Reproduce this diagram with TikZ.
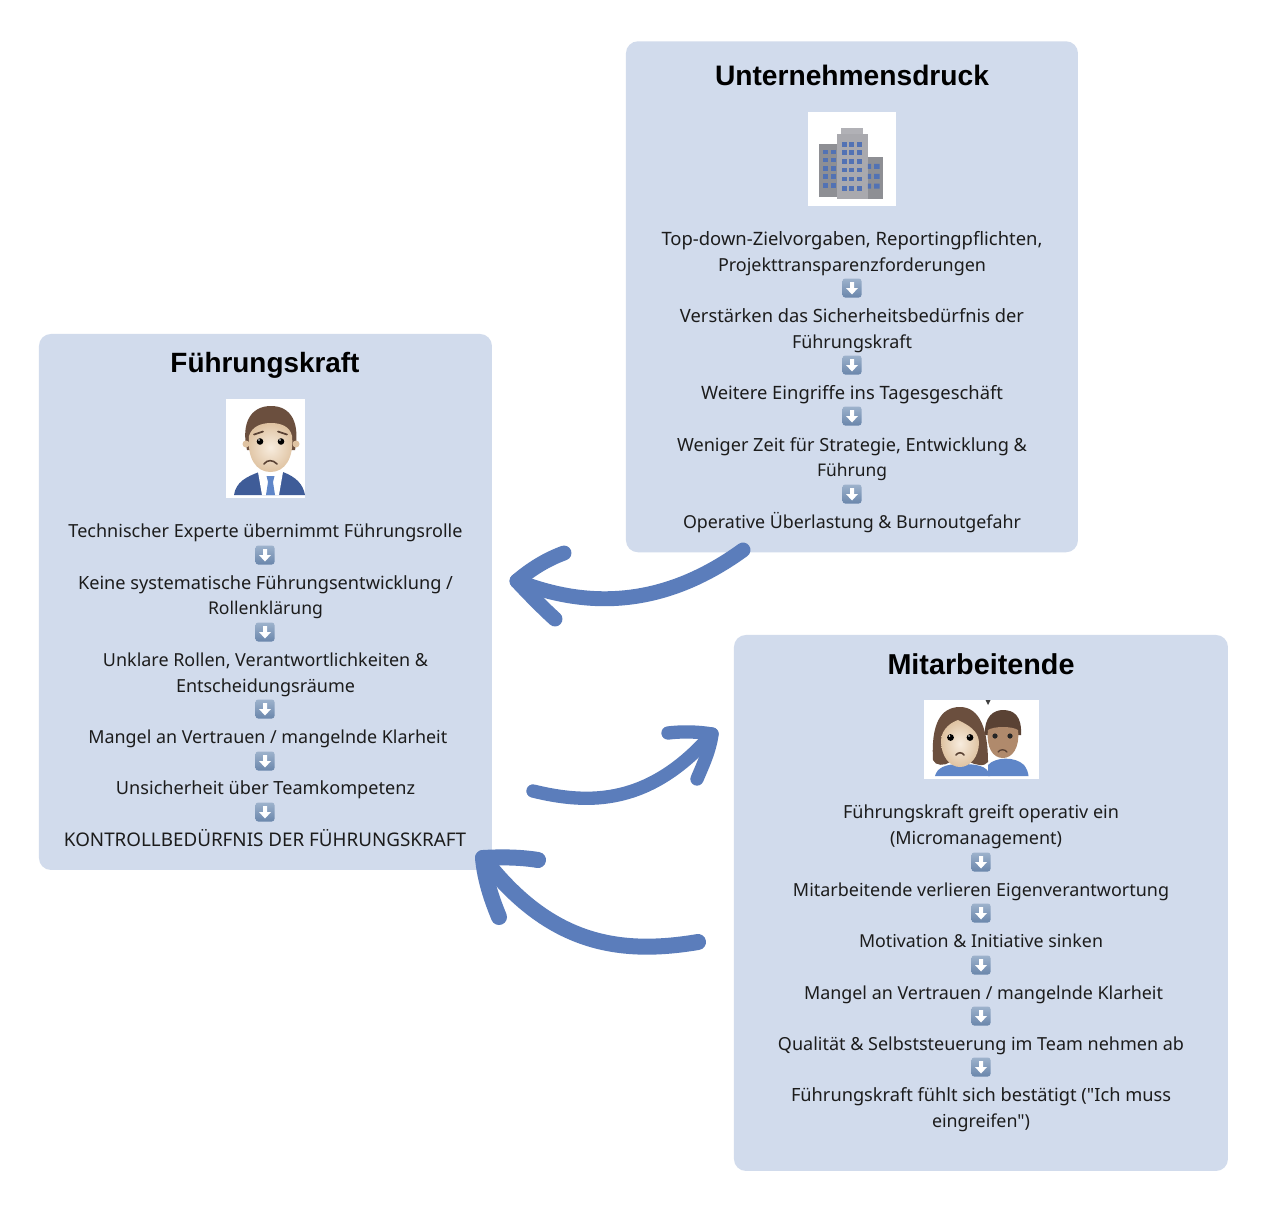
\documentclass[tikz,border=0pt]{standalone}
\usepackage{fontspec}
\usepackage{graphicx}
\newfontfamily\bodyfont{Noto Sans}
\newfontfamily\titlefont{Liberation Sans}[BoldFont={Liberation Sans Bold}]
\setmainfont{Noto Sans}
\definecolor{boxc}{HTML}{D1DBEC}
\definecolor{arrowc}{HTML}{5B7DBB}
\definecolor{txt}{HTML}{1C1C1C}
\definecolor{bwall}{HTML}{A9A9AE}
\definecolor{bdark}{HTML}{8E8F94}
\definecolor{bwin}{HTML}{5272B4}
\definecolor{skin}{HTML}{F3E0C8}
\definecolor{skind}{HTML}{DFC3A2}
\definecolor{skinb}{HTML}{B08A6C}
\definecolor{hair}{HTML}{6B4F3E}
\definecolor{hairb}{HTML}{5A4234}
\definecolor{suit}{HTML}{3F5C98}
\definecolor{shirt}{HTML}{5F86C8}
\definecolor{btntop}{HTML}{9DB2CC}
\definecolor{btnbot}{HTML}{6A86AB}
\newlength{\pxu}\setlength{\pxu}{0.75pt}
\newcommand{\fitw}[2]{\resizebox{#1\pxu}{!}{#2}}
\tikzset{
  x=0.75pt,y=-0.75pt,
  panel/.style={fill=boxc,draw=none,rounded corners=9pt,minimum width=#1,anchor=north west,inner sep=0pt},
  ttl/.style={anchor=base,inner sep=0pt,font=\fontsize{20.6pt}{24pt}\titlefont\bfseries,text=black},
  ln/.style={anchor=base,inner sep=0pt,font=\fontsize{13.7pt}{16pt}\bodyfont,text=txt},
  curve/.style={draw=arrowc,line cap=round,line join=round},
  photo/.style={fill=white,draw=none},
}
\newcommand{\dnbtn}[2]{%
  \begin{scope}[shift={(#1,#2)}]
    \shade[top color=btntop, bottom color=btnbot, rounded corners=2pt] (-9.5,-9.5) rectangle (9.5,9.5);
    \fill[white] (-2,-6) -- (2,-6) -- (2,0) -- (6,0) -- (0,6.5) -- (-6,0) -- (-2,0) -- cycle;
  \end{scope}}
\begin{document}
\begin{tikzpicture}
\useasboundingbox (0,0) rectangle (1266,1210);
\fill[white] (0,0) rectangle (1266,1210);
% panels
\node[panel=339pt,minimum height=383.25pt] (top) at (625.7,41) {};
\node[panel=339.75pt,minimum height=402pt] (left) at (38.7,333.7) {};
\node[panel=370.5pt,minimum height=402pt] (right) at (733.7,634.7) {};
% titles
\node[ttl] (t1) at (852,85.5) {\fitw{274}{Unternehmensdruck}};
\node[ttl] (t2) at (265,372) {\fitw{189}{Führungskraft}};
\node[ttl] (t3) at (981,674) {\fitw{187}{Mitarbeitende}};
% top panel text
\node[ln] (a1) at (852,245) {\fitw{381}{Top-down-Zielvorgaben, Reportingpflichten,}};
\node[ln] (a2) at (852,271) {\fitw{268}{Projekttransparenzforderungen}};
\node[ln] (a3) at (852,322) {\fitw{344}{Verstärken das Sicherheitsbedürfnis der}};
\node[ln] (a4) at (852,348) {\fitw{120}{Führungskraft}};
\node[ln] (a5) at (852,399) {\fitw{302}{Weitere Eingriffe ins Tagesgeschäft}};
\node[ln] (a6) at (852,451) {\fitw{350}{Weniger Zeit für Strategie, Entwicklung \&}};
\node[ln] (a7) at (852,476.5) {\fitw{70}{Führung}};
\node[ln] (a8) at (852,528) {\fitw{338}{Operative Überlastung \& Burnoutgefahr}};
% left panel text
\node[ln] (b1) at (265.5,537.5) {\fitw{394}{Technischer Experte übernimmt Führungsrolle}};
\node[ln] (b2) at (265.5,589) {\fitw{375}{Keine systematische Führungsentwicklung /}};
\node[ln] (b3) at (265.5,614.5) {\fitw{115}{Rollenklärung}};
\node[ln] (b4) at (265.5,666) {\fitw{325}{Unklare Rollen, Verantwortlichkeiten \&}};
\node[ln] (b5) at (265.5,692) {\fitw{179}{Entscheidungsräume}};
\node[ln] (b6) at (267.8,743) {\fitw{359}{Mangel an Vertrauen / mangelnde Klarheit}};
\node[ln] (b7) at (265.5,794.5) {\fitw{299}{Unsicherheit über Teamkompetenz}};
\node[ln] (b8) at (265,846) {\fitw{402}{KONTROLLBEDÜRFNIS DER FÜHRUNGSKRAFT}};
% right panel text
\node[ln] (c1) at (981,818.5) {\fitw{276}{Führungskraft greift operativ ein}};
\node[ln] (c2) at (976,844.5) {\fitw{172}{(Micromanagement)}};
\node[ln] (c3) at (981,896) {\fitw{376}{Mitarbeitende verlieren Eigenverantwortung}};
\node[ln] (c4) at (981,947.5) {\fitw{244}{Motivation \& Initiative sinken}};
\node[ln] (c5) at (983.5,999) {\fitw{359}{Mangel an Vertrauen / mangelnde Klarheit}};
\node[ln] (c6) at (981,1050) {\fitw{406}{Qualität \& Selbststeuerung im Team nehmen ab}};
\node[ln] (c7) at (981,1101.5) {\fitw{380}{Führungskraft fühlt sich bestätigt ("Ich muss}};
\node[ln] (c8) at (981,1127.5) {\fitw{98}{eingreifen")}};
% buttons
\dnbtn{852}{288}\dnbtn{852}{365}\dnbtn{852}{416}\dnbtn{852}{494}
\dnbtn{265}{555}\dnbtn{265}{632}\dnbtn{265}{709}\dnbtn{265}{761}\dnbtn{265}{812}
\dnbtn{981}{862}\dnbtn{981}{913}\dnbtn{981}{965}\dnbtn{981}{1016}\dnbtn{981}{1067}
% building picture
\fill[photo] (808,112) rectangle (896,206);
\fill[bdark] (819,144) rectangle (838,197);
\fill[bdark] (866,157) rectangle (882.5,199);
\fill[bwall] (837,134) rectangle (867.5,199);
\fill[bwall!90!white] (841,128) rectangle (863,134);
\foreach \yy in {144.3,152.7,161.3,170,179,188.3} { \foreach \xx in {844.3,851.7,859.3} { \fill[bwin] (\xx-2.4,\yy-2.4) rectangle (\xx+2.4,\yy+2.4); } }
\foreach \yy in {152,160,168.3,176.7,185.7} { \foreach \xx in {825.3,833.3} { \fill[bwin] (\xx-2.7,\yy-2.3) rectangle (\xx+2.7,\yy+2.3); } }
\foreach \yy in {166.3,176.3,186} { \fill[bwin] (867.8,\yy-2.5) rectangle (871,\yy+2.5) (874,\yy-2.5) rectangle (879.5,\yy+2.5); }
% man picture
\fill[photo] (225.5,398.5) rectangle (305,498);
\fill[suit] (234,495) .. controls (236,482) and (246,477) .. (259,472) -- (283,472) .. controls (296,477) and (303,484) .. (305,495) -- cycle;
\fill[white] (258,472) -- (283,472) -- (279,495) -- (262,495) -- cycle;
\fill[shirt] (266.5,476) -- (274.5,476) -- (273,482) -- (275,495) -- (266,495) -- (268,482) -- cycle;
\fill[hair] (247,450) .. controls (241,424) and (250,406) .. (271,406) .. controls (292,406) and (300,424) .. (295,450) -- cycle;
\fill[skind] (246,444) circle (3.5) (296,444) circle (3.5);
\shade[inner color=skin!60!white, outer color=skind] (249,436) .. controls (252,426) and (262,423) .. (271,423) .. controls (280,423) and (290,426) .. (292,436) .. controls (294,458) and (285,472) .. (270.5,472) .. controls (256,472) and (247,458) .. (249,436) -- cycle;
\fill[black] (260,441.5) circle (3.3) (281,441.5) circle (3.3);
\fill[white] (259,440) circle (0.9) (280,440) circle (0.9);
\draw[hairb,line width=1.3pt,line cap=round] (254,434.5) -- (263,431.5) (287,434.5) -- (278,431.5);
\draw[hairb,line width=1.2pt,line cap=round] (264,464) .. controls (267,459.5) and (273,459.5) .. (277,464);
% couple picture
\fill[photo] (924,699.5) rectangle (1038.5,779);
\fill[black!75] (985.5,700) -- (990.5,700) -- (988,705) -- cycle;
\fill[hairb] (985,735) .. controls (984,716) and (994,710) .. (1003,710) .. controls (1014,710) and (1022,716) .. (1021,735) -- cycle;
\fill[shirt] (988,776) -- (988,765) .. controls (995,757) and (1015,756) .. (1024,765) .. controls (1027,769) and (1028,772) .. (1028.5,776) -- cycle;
\fill[skinb] (988,730) .. controls (994,726) and (1012,726) .. (1018,730) .. controls (1020,748) and (1012,758) .. (1003,758) .. controls (993,758) and (986,748) .. (988,730) -- cycle;
\fill[black!85] (995,736) circle (2.6) (1010,736) circle (2.6);
\draw[hairb,line width=1pt,line cap=round] (998,752) .. controls (1000,749) and (1005,749) .. (1007,752);
\fill[shirt] (935,776) .. controls (937,768) and (945,764) .. (960,764) .. controls (975,764) and (988,765) .. (990,776) -- cycle;
\fill[hair] (933,760) .. controls (931,725) and (940,707) .. (960,707) .. controls (980,707) and (988,730) .. (988,762) .. controls (985,767) and (975,765) .. (970,762) -- (950,762) .. controls (945,766) and (935,766) .. (933,760) -- cycle;
\shade[inner color=skin!60!white, outer color=skind] (941,740) .. controls (942,728) and (952,722) .. (958,720) .. controls (968,725) and (978,730) .. (979,742) .. controls (979,757) and (970,767) .. (960,767) .. controls (950,767) and (941,757) .. (941,740) -- cycle;
\fill[black] (950.5,737.5) circle (3.4) (970,737.5) circle (3.4);
\fill[white] (949.5,736) circle (0.9) (969,736) circle (0.9);
\draw[hairb,line width=1.2pt,line cap=round] (956,755) .. controls (958,752) and (962,752) .. (964,755);
% connectors
\coordinate (p1s) at (743,550); \coordinate (p1t) at (517,581); \coordinate (p1a) at (564,553); \coordinate (p1b) at (555,619);
\draw[curve,line width=11.2pt] (p1s) .. controls (685,592) and (610,618) .. (p1t);
\draw[curve,line width=11.2pt] (p1a) .. controls (545,560) and (530,570) .. (p1t) .. controls (530,595) and (545,610) .. (p1b);
\coordinate (p2s) at (533,791); \coordinate (p2t) at (712,734); \coordinate (p2a) at (668,733); \coordinate (p2b) at (697,779);
\draw[curve,line width=10pt] (p2s) .. controls (590,805) and (650,805) .. (p2t);
\draw[curve,line width=10pt] (p2a) .. controls (685,731) and (700,732) .. (p2t) .. controls (710,750) and (703,765) .. (p2b);
\coordinate (p3s) at (698,942); \coordinate (p3t) at (483,858); \coordinate (p3a) at (538,860); \coordinate (p3b) at (499,917);
\draw[curve,line width=12pt] (p3s) .. controls (620,955) and (550,945) .. (p3t);
\draw[curve,line width=12pt] (p3a) .. controls (520,857) and (500,857) .. (p3t) .. controls (485,880) and (492,900) .. (p3b);
\end{tikzpicture}
\end{document}
